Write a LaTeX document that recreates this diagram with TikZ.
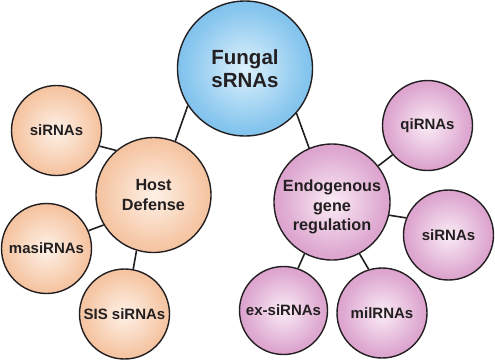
\documentclass[tikz,border=0pt]{standalone}
\usepackage{fontspec}
\setmainfont{Liberation Sans}
\definecolor{blueedge}{HTML}{42A3E2}
\definecolor{bluecenter}{HTML}{DDF1FC}
\definecolor{orangeedge}{HTML}{EFA571}
\definecolor{orangecenter}{HTML}{FEF1E7}
\definecolor{pinkedge}{HTML}{C771B3}
\definecolor{pinkcenter}{HTML}{FAECF5}
\definecolor{ink}{HTML}{231F20}
\colorlet{bluemid}{bluecenter!45!blueedge}
\colorlet{orangemid}{orangecenter!45!orangeedge}
\colorlet{pinkmid}{pinkcenter!45!pinkedge}
\pgfdeclareradialshading{blueshade}{\pgfpointorigin}{color(0bp)=(bluecenter);
  color(22bp)=(bluemid); color(50bp)=(blueedge)}
\pgfdeclareradialshading{orangeshade}{\pgfpointorigin}{color(0bp)=(orangecenter);
  color(22bp)=(orangemid); color(50bp)=(orangeedge)}
\pgfdeclareradialshading{pinkshade}{\pgfpointorigin}{color(0bp)=(pinkcenter);
  color(22bp)=(pinkmid); color(50bp)=(pinkedge)}
\begin{document}
\begin{tikzpicture}[x=1pt,y=-1pt,
  bubble/.style={circle, draw=ink, line width=1.4pt, text=ink, align=center,
    inner sep=0pt},
  bluebub/.style={bubble, shading=blueshade},
  orangebub/.style={bubble, shading=orangeshade},
  pinkbub/.style={bubble, shading=pinkshade},
  bigfont/.style={font=\bfseries\fontsize{20.5}{22.5}\selectfont},
  midfont/.style={font=\bfseries\fontsize{16.2}{19.5}\selectfont},
  smallfont/.style={font=\bfseries\fontsize{15}{17}\selectfont},
  link/.style={draw=ink, line width=1.6pt}
]
\useasboundingbox (0,0) rectangle (495,360);

\node[bluebub, minimum size=135pt, bigfont] (fungal) at (245,68.5) {Fungal\\sRNAs};
\node[orangebub, minimum size=115pt, midfont] (host) at (153.5,195) {Host\\Defense};
\node[pinkbub, minimum size=116pt] (endo) at (332,202) {};
\node[midfont, text=ink, align=center, inner sep=0pt] (endotext) at (332,207)
  {Endogenous\\gene\\regulation};

\node[orangebub, minimum size=90pt, smallfont] (sil) at (56.5,130.5) {siRNAs};
\node[orangebub, minimum size=90pt, smallfont] (masi) at (46.5,248.5) {masiRNAs};
\node[orangebub, minimum size=90pt, smallfont] (sis) at (124.5,314) {SIS siRNAs};

\node[pinkbub, minimum size=90pt, smallfont] (qi) at (427.5,125.5) {qiRNAs};
\node[pinkbub, minimum size=90pt, smallfont] (sir) at (448.5,235) {siRNAs};
\node[pinkbub, minimum size=88pt, smallfont] (ex) at (283.5,310.5) {ex-siRNAs};
\node[pinkbub, minimum size=90pt, smallfont] (mil) at (382,313) {milRNAs};

\draw[link] (host.68.6) -- (fungal.213.9);
\draw[link] (fungal.319.8) -- (endo.113.8);
\draw[link] (sil.340.8) -- (host.130.8);
\draw[link] (masi.23) -- (host.211.3);
\draw[link] (sis.79.5) -- (host.253.7);
\draw[link] (qi.220.5) -- (endo.38);
\draw[link] (sir.158.7) -- (endo.347.8);
\draw[link] (ex.71.6) -- (endo.242);
\draw[link] (mil.107.3) -- (endo.298.8);
\end{tikzpicture}
\end{document}
